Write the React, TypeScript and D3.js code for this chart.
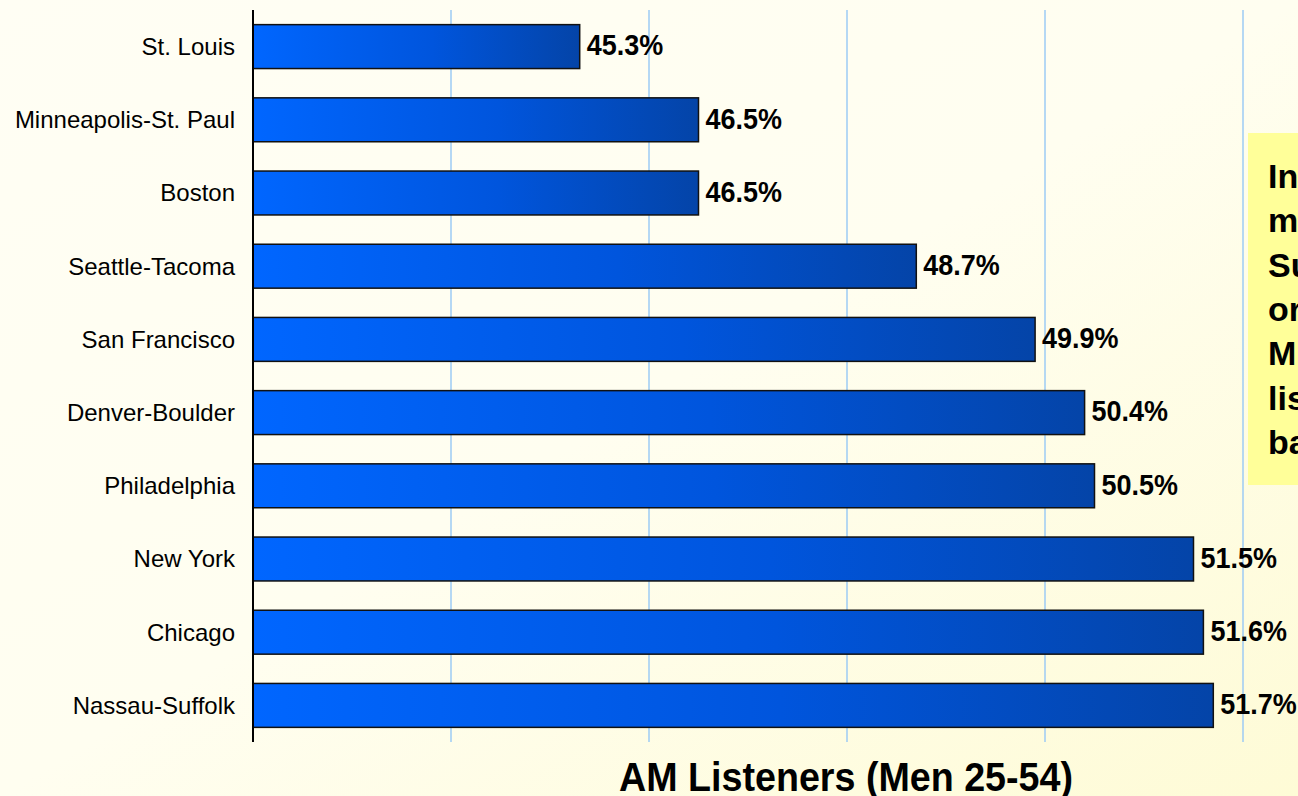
import React from "react";
import * as d3 from "d3";

const categories = [
  "St. Louis",
  "Minneapolis-St. Paul",
  "Boston",
  "Seattle-Tacoma",
  "San Francisco",
  "Denver-Boulder",
  "Philadelphia",
  "New York",
  "Chicago",
  "Nassau-Suffolk",
];
const values = [45.3, 46.5, 46.5, 48.7, 49.9, 50.4, 50.5, 51.5, 51.6, 51.7];
const gridTicks = [44, 46, 48, 50, 52];
const title = "AM Listeners (Men 25-54)";
const noteLines = ["In", "m", "Su", "or", "M", "lis", "ba"];

const W = 1298;
const H = 796;
const FONT = "'Liberation Sans', Arial, Helvetica, sans-serif";

export default function App() {
  const x = d3.scaleLinear().domain([42, 52]).range([253, 1243]);
  const y = d3.scaleBand().domain(categories).range([10, 742]).paddingInner(0.4).paddingOuter(0.2);

  return (
    <div style={{ position: "fixed", left: 0, top: 0, width: W, height: H, overflow: "hidden" }}>
      <svg width={W} height={H} style={{ display: "block" }}>
        <defs>
          <linearGradient id="bg" x1="0" y1="0" x2="1" y2="1">
            <stop offset="0%" stopColor="#FFFEF4" />
            <stop offset="50%" stopColor="#FFFEF0" />
            <stop offset="100%" stopColor="#FEFBD6" />
          </linearGradient>
          <linearGradient id="bar" x1="0" y1="0" x2="1" y2="0">
            <stop offset="0%" stopColor="#0066FF" />
            <stop offset="55%" stopColor="#0055DD" />
            <stop offset="100%" stopColor="#0444A8" />
          </linearGradient>
        </defs>
        <rect x={0} y={0} width={W} height={H} fill="url(#bg)" />
        {gridTicks.map((t) => (
          <line key={t} x1={x(t)} x2={x(t)} y1={10} y2={742} stroke="#9CCBF5" strokeWidth={1.5} />
        ))}
        <rect x={1248} y={133} width={60} height={352} fill="#FFFF99" />
        {noteLines.map((l, i) => (
          <text
            key={i}
            transform={`translate(1268,${188 + i * 44.3})`}
            fontFamily={FONT}
            fontWeight="bold"
            fontSize={34}
            fill="#000"
          >
            {l}
          </text>
        ))}
        {categories.map((c, i) => {
          const yy = y(c)!;
          const bw = y.bandwidth();
          return (
            <g key={c}>
              <rect x={x(42)} y={yy} width={x(values[i]) - x(42)} height={bw} fill="url(#bar)" stroke="#111" strokeWidth={1.5} />
              <text
                transform={`translate(${x(values[i]) + 7},${yy + bw / 2}) scale(0.93,1)`}
                dy="0.3em"
                fontFamily={FONT}
                fontWeight="bold"
                fontSize={29}
                fill="#000"
              >
                {values[i].toFixed(1)}%
              </text>
              <text x={235} y={yy + bw / 2} dy="0.35em" textAnchor="end" fontFamily={FONT} fontSize={24} fill="#000">
                {c}
              </text>
            </g>
          );
        })}
        <line x1={253} x2={253} y1={10} y2={742} stroke="#000" strokeWidth={2} />
        <text
          transform="translate(846,791) scale(0.93,1)"
          textAnchor="middle"
          fontFamily={FONT}
          fontWeight="bold"
          fontSize={40.5}
          fill="#000"
        >
          {title}
        </text>
      </svg>
    </div>
  );
}
